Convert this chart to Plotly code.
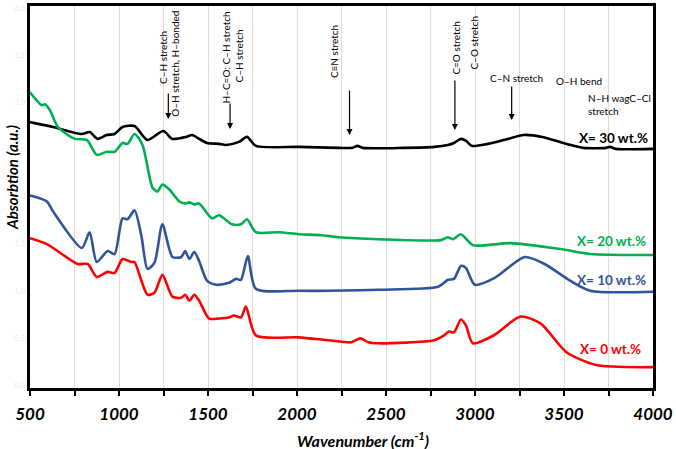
import plotly.graph_objects as go

# ---------------- data ----------------
wn_30 = [500, 629, 791, 835, 880, 931, 975, 1020, 1087, 1160, 1249, 1300, 1378, 1411, 1450, 1495,
         1562, 1601, 1674, 1719, 1769, 2010, 2233, 2310, 2339, 2370, 2600, 2770, 2848, 2882, 2921,
         2950, 2982, 3072, 3184, 3273, 3379, 3514, 3609, 3737, 3760, 3790, 4000]
abs_30 = [2.789, 2.737, 2.663, 2.684, 2.611, 2.653, 2.663, 2.737, 2.747, 2.600, 2.695, 2.611, 2.632,
          2.653, 2.611, 2.568, 2.558, 2.547, 2.579, 2.632, 2.537, 2.526, 2.516, 2.516, 2.537, 2.516,
          2.516, 2.526, 2.547, 2.568, 2.611, 2.589, 2.537, 2.558, 2.611, 2.653, 2.632, 2.558, 2.516,
          2.516, 2.526, 2.505, 2.505]

wn_20 = [500, 567, 584, 612, 657, 752, 819, 875, 931, 975, 1020, 1048, 1087, 1132, 1188, 1216, 1244,
         1283, 1339, 1372, 1395, 1423, 1450, 1523, 1562, 1635, 1685, 1719, 1769, 1898, 2010, 2138,
         2233, 2457, 2809, 2848, 2876, 2921, 2988, 3200, 3480, 3648, 4000]
abs_20 = [3.105, 2.968, 2.979, 2.916, 2.737, 2.611, 2.600, 2.442, 2.474, 2.474, 2.568, 2.558, 2.663,
          2.547, 2.095, 2.053, 2.126, 2.074, 1.947, 1.926, 1.937, 1.916, 1.926, 1.768, 1.800, 1.705,
          1.705, 1.758, 1.621, 1.621, 1.600, 1.589, 1.568, 1.547, 1.537, 1.568, 1.547, 1.600, 1.484,
          1.505, 1.442, 1.389, 1.379]

wn_10 = [500, 595, 629, 791, 835, 875, 936, 975, 1020, 1048, 1087, 1126, 1160, 1199, 1244, 1300, 1350,
         1372, 1395, 1423, 1450, 1495, 1546, 1618, 1657, 1685, 1724, 1769, 2010, 2457, 2792, 2848,
         2882, 2921, 2949, 2999, 3111, 3279, 3391, 3536, 3648, 4000]
abs_10 = [2.011, 1.947, 1.842, 1.453, 1.621, 1.305, 1.421, 1.389, 1.768, 1.758, 1.853, 1.579, 1.232,
          1.295, 1.705, 1.358, 1.358, 1.421, 1.337, 1.411, 1.316, 1.105, 1.063, 1.084, 1.126, 1.116,
          1.368, 1.021, 1.000, 1.011, 1.042, 1.116, 1.126, 1.263, 1.242, 1.063, 1.137, 1.358, 1.284,
          1.105, 1.000, 0.989]

wn_0 = [500, 595, 768, 824, 875, 936, 975, 1020, 1070, 1087, 1126, 1160, 1199, 1244, 1300, 1350, 1372,
        1395, 1423, 1450, 1506, 1562, 1618, 1646, 1685, 1713, 1769, 2010, 2177, 2306, 2356, 2401,
        2457, 2770, 2826, 2854, 2882, 2921, 2949, 2988, 3105, 3256, 3368, 3514, 3681, 4000]
abs_0 = [1.558, 1.495, 1.284, 1.284, 1.147, 1.200, 1.189, 1.337, 1.305, 1.305, 1.105, 0.958, 0.979,
         1.168, 0.937, 0.926, 0.958, 0.895, 0.958, 0.895, 0.705, 0.705, 0.716, 0.737, 0.716, 0.832,
         0.526, 0.505, 0.474, 0.453, 0.495, 0.453, 0.442, 0.474, 0.526, 0.568, 0.558, 0.695, 0.632,
         0.442, 0.526, 0.726, 0.653, 0.347, 0.211, 0.189]

series_names = ["X= 30 wt.%", "X= 20 wt.%", "X= 10 wt.%", "X= 0 wt.%"]
series_colors = ["#000000", "#00b050", "#2f5597", "#ff0000"]

x_ticks = [500, 1000, 1500, 2000, 2500, 3000, 3500, 4000]

FONT = "Lato"

fig = go.Figure()
for wn, ab, name, col in zip([wn_30, wn_20, wn_10, wn_0], [abs_30, abs_20, abs_10, abs_0],
                             series_names, series_colors):
    fig.add_trace(go.Scatter(x=wn, y=ab, mode="lines", name=name,
                             line=dict(color=col, width=2.6, shape="spline", smoothing=0.7),
                             showlegend=False, hoverinfo="skip"))

ann = []
small = dict(family=FONT, size=10, color="#000000")
# vertical band labels
for text, x, y in [("C–H stretch", 1244, 3.474),
                   ("O–H stretch, H–bonded", 1316, 3.411),
                   ("H–C=O: C–H stretch", 1601, 3.474),
                   ("C–H stretch", 1674, 3.495),
                   ("C≡N stretch", 2205, 3.537),
                   ("C=O stretch", 2893, 3.579),
                   ("C–O stretch", 2994, 3.632)]:
    ann.append(dict(x=x, y=y, xref="x", yref="y", text=text, textangle=-90, showarrow=False,
                    font=small, xanchor="center", yanchor="middle"))
# horizontal band labels
ann.append(dict(x=3234, y=3.253, xref="x", yref="y", text="C–N stretch", showarrow=False, font=small))
ann.append(dict(x=3586, y=3.221, xref="x", yref="y", text="O–H bend", showarrow=False, font=small))
ann.append(dict(x=3625, y=2.979, xref="x", yref="y", text="N–H wagC–Cl<br>stretch", showarrow=False,
                font=small, xanchor="left", align="left"))
# arrows
for x, y, ay in [(1277, 2.821, -27), (1624, 2.716, -27), (2295, 2.653, -46),
                 (2887, 2.705, -51), (3206, 2.811, -35)]:
    ann.append(dict(x=x, y=y, xref="x", yref="y", text="", showarrow=True, ax=0, ay=ay,
                    arrowhead=2, arrowsize=1, arrowwidth=1.2, arrowcolor="#000000"))
# series labels
for name, col, x, y in zip(series_names, series_colors, [3983, 3972, 3972, 3944],
                           [2.621, 1.526, 1.116, 0.379]):
    ann.append(dict(x=x, y=y, xref="x", yref="y", text=name, showarrow=False, xanchor="right",
                    yanchor="middle",
                    font=dict(family=FONT, size=13.5, color=col, weight="bold")))
# axis titles
ann.append(dict(x=0.535, y=-0.135, xref="paper", yref="paper", text="Wavenumber (cm<sup>-1</sup>)",
                showarrow=False, xanchor="center", yanchor="middle",
                font=dict(family=FONT, size=16, color="#000", weight="bold", style="italic")))
ann.append(dict(x=-0.029, y=0.552, xref="paper", yref="paper", text="Absorbtion (a.u.)", textangle=-90,
                showarrow=False, xanchor="center", yanchor="middle",
                font=dict(family=FONT, size=15, color="#000", weight="bold", style="italic")))

fig.update_layout(
    width=676, height=449,
    margin=dict(l=30, r=20, t=3, b=61),
    paper_bgcolor="white", plot_bgcolor="white",
    annotations=ann,
    xaxis=dict(range=[500, 4000], tickvals=x_ticks, ticks="outside", ticklen=5, tickwidth=2,
               tickcolor="#000", showline=True, linewidth=3, linecolor="#000", mirror=True,
               showgrid=True, gridcolor="#ecd8cf", gridwidth=1, zeroline=False,
               ticklabelstandoff=4,
               tickfont=dict(family=FONT, size=17, color="#000", weight="bold", style="italic"),
               minor=dict(dtick=250, tick0=500, ticks="outside", ticklen=5, tickwidth=2, tickcolor="#000",
                          showgrid=True, gridcolor="#ecd8cf", gridwidth=1)),
    yaxis=dict(range=[-0.032, 4.021], dtick=0.5, tick0=0, showline=True, linewidth=3, linecolor="#000",
               mirror=True, showgrid=False, zeroline=False, ticks="",
               tickfont=dict(family=FONT, size=8, color="#ebebeb"), tickformat=".1f"),
)

fig.write_html("out.html")
